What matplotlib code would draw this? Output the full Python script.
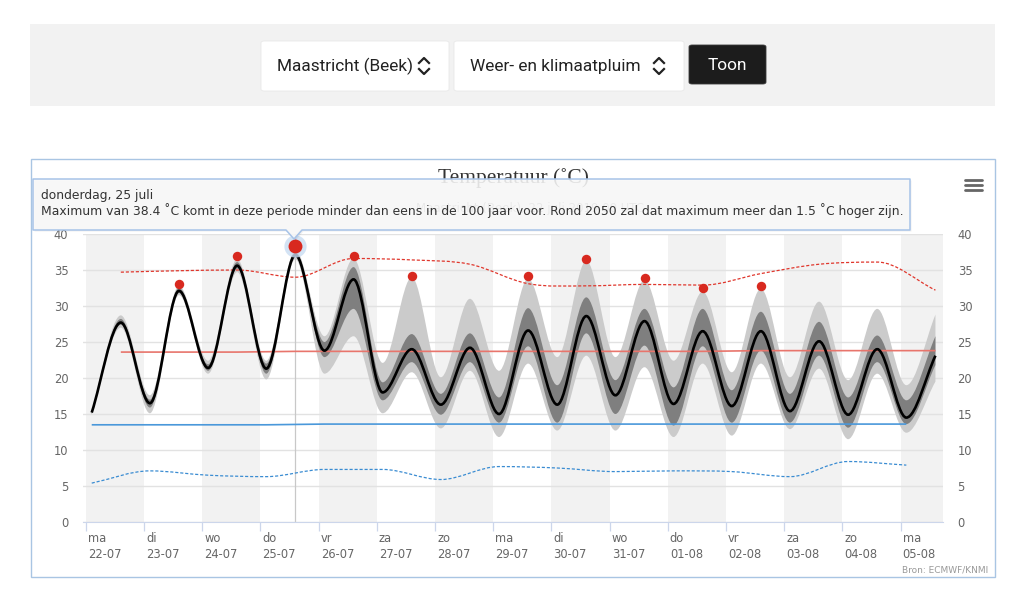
import numpy as np
import matplotlib
matplotlib.use("Agg")
import matplotlib.pyplot as plt
from matplotlib.path import Path
from matplotlib.patches import PathPatch, Rectangle, Polygon, FancyBboxPatch
from matplotlib.lines import Line2D
from matplotlib.transforms import ScaledTranslation

# ---- data (days since ma 22-07 00:00) ----
day_names = ["ma", "di", "wo", "do", "vr", "za", "zo", "ma", "di", "wo", "do", "vr", "za", "zo", "ma"]
dates = ["22-07", "23-07", "24-07", "25-07", "26-07", "27-07", "28-07", "29-07", "30-07", "31-07",
         "01-08", "02-08", "03-08", "04-08", "05-08"]

t_half = [0.1, 0.6, 1.1, 1.6, 2.1, 2.6, 3.1, 3.6, 4.1, 4.6, 5.1, 5.6, 6.1, 6.6, 7.1,
          7.6, 8.1, 8.6, 9.1, 9.6, 10.1, 10.6, 11.1, 11.6, 12.1, 12.6, 13.1, 13.6, 14.1, 14.6]
mean_t = [15.2, 27.7, 16.5, 32.1, 21.4, 35.6, 21.3, 37.1, 23.8, 33.7, 18.0, 24.0, 16.3, 24.2, 15.0,
          26.6, 16.3, 28.6, 17.6, 27.9, 16.4, 26.5, 16.1, 26.5, 15.4, 25.1, 14.9, 24.0, 14.5, 23.1]
light_lo = [14.9, 27.0, 15.1, 31.5, 20.6, 34.7, 19.8, 36.5, 20.6, 25.8, 15.1, 20.8, 13.0, 21.0, 11.8,
            22.0, 12.7, 23.1, 12.7, 21.5, 11.8, 22.0, 12.0, 22.0, 12.9, 21.3, 11.5, 20.6, 12.4, 19.5]
light_hi = [15.5, 28.7, 17.6, 32.8, 22.4, 36.5, 22.4, 37.8, 25.8, 36.6, 22.1, 34.0, 20.1, 31.0, 21.0,
            33.8, 22.9, 36.3, 22.9, 33.6, 22.4, 32.0, 20.8, 32.4, 20.1, 30.6, 19.7, 29.6, 19.0, 28.8]
dark_lo = [15.0, 27.4, 15.9, 31.8, 21.0, 35.2, 20.6, 36.8, 22.9, 29.6, 16.9, 22.2, 14.9, 22.2, 13.8,
           24.4, 13.8, 26.2, 15.0, 24.5, 13.4, 24.4, 13.8, 23.8, 13.8, 23.1, 13.1, 22.2, 13.6, 21.8]
dark_hi = [15.4, 28.2, 17.0, 32.5, 21.9, 36.1, 22.0, 37.5, 25.0, 35.4, 19.4, 26.1, 17.8, 26.2, 17.3,
           29.7, 19.0, 31.2, 19.7, 29.6, 18.7, 29.6, 18.3, 29.2, 17.8, 27.8, 17.3, 25.9, 16.9, 25.8]

# climate lines: max side at afternoon times, min side at night times
clim_max_ext = [34.7, 34.9, 35.0, 34.0, 36.6, 36.4, 35.8, 33.1, 32.8, 33.0, 32.9, 34.5, 35.8, 36.1, 32.2]
clim_max_avg = [23.6, 23.6, 23.6, 23.7, 23.7, 23.7, 23.7, 23.7, 23.7, 23.7, 23.7, 23.8, 23.8, 23.8, 23.8]
clim_min_avg = [13.5, 13.5, 13.5, 13.5, 13.6, 13.6, 13.6, 13.6, 13.6, 13.6, 13.6, 13.6, 13.6, 13.6, 13.6]
clim_min_ext = [5.4, 7.1, 6.5, 6.3, 7.3, 7.3, 5.9, 7.7, 7.5, 7.0, 7.1, 7.0, 6.3, 8.4, 7.9]

record_t = [1.6, 2.6, 3.6, 4.6, 5.6, 7.6, 8.6, 9.6, 10.6, 11.6]
record_v = [33.0, 36.9, 38.4, 37.0, 34.2, 34.2, 36.5, 33.9, 32.5, 32.8]

t_pm = t_half[1::2]
t_am = t_half[0::2]

W, H = 1024, 599


def fx(x):
    return x / W


def fy(y):
    return 1 - y / H


def spline(x, y):
    # bezier spline like highcharts: flat tangents at local extremes
    x = np.asarray(x, float); y = np.asarray(y, float)
    n = len(x)
    m = np.zeros(n)
    for i in range(n):
        if i == 0:
            m[i] = (y[1] - y[0]) / (x[1] - x[0])
        elif i == n - 1:
            m[i] = (y[-1] - y[-2]) / (x[-1] - x[-2])
        elif (y[i] - y[i - 1]) * (y[i + 1] - y[i]) > 0:
            m[i] = (y[i + 1] - y[i - 1]) / (x[i + 1] - x[i - 1])
    verts = [(x[0], y[0])]; codes = [Path.MOVETO]
    for i in range(n - 1):
        d = (x[i + 1] - x[i]) / 3
        verts += [(x[i] + d, y[i] + m[i] * d), (x[i + 1] - d, y[i + 1] - m[i + 1] * d), (x[i + 1], y[i + 1])]
        codes += [Path.CURVE4] * 3
    return verts, codes


def band(ax, x, lo, hi, color, z):
    vu, cu = spline(x, hi)
    vl, cl = spline(x[::-1], lo[::-1])
    cl[0] = Path.LINETO
    p = Path(vu + vl + [vu[0]], cu + cl + [Path.CLOSEPOLY])
    ax.add_patch(PathPatch(p, fc=color, ec="none", zorder=z))


def curve(ax, x, y, **kw):
    v, c = spline(x, y)
    ax.add_patch(PathPatch(Path(v, c), fill=False, capstyle="butt", **kw))


fig = plt.figure(figsize=(W / 100, H / 100), dpi=100)
fig.patch.set_facecolor("white")

# ---- page controls ----
fig.add_artist(Rectangle((fx(30), fy(106)), (995 - 30) / W, 82 / H, transform=fig.transFigure,
                         fc="#f2f2f2", ec="none", zorder=-5))
for x0, x1, label in [(261, 449, "Maastricht (Beek)"), (454, 684, "Weer- en klimaatpluim")]:
    fig.add_artist(FancyBboxPatch((fx(x0), fy(91)), (x1 - x0) / W, 50 / H, boxstyle="round,pad=0,rounding_size=0.003",
                                  transform=fig.transFigure, fc="white", ec="#e8e8e8", lw=0.6, zorder=-4))
    fig.text(fx(x0 + 16), fy(66), label, ha="left", va="center", fontsize=12.4, family="Roboto", color="#222222")
    cx = x1 - 25
    fig.add_artist(Line2D([fx(cx - 5), fx(cx), fx(cx + 5)], [fy(63), fy(58), fy(63)],
                          transform=fig.transFigure, color="#222222", lw=1.6))
    fig.add_artist(Line2D([fx(cx - 5), fx(cx), fx(cx + 5)], [fy(69), fy(74), fy(69)],
                          transform=fig.transFigure, color="#222222", lw=1.6))
fig.add_artist(FancyBboxPatch((fx(689), fy(84)), 77 / W, 39 / H, boxstyle="round,pad=0,rounding_size=0.003",
                              transform=fig.transFigure, fc="#1c1c1c", ec="#3a3a3a", lw=0.6, zorder=-4))
fig.text(fx(727.5), fy(65), "Toon", ha="center", va="center", fontsize=12.4, family="Roboto", color="white")

# chart container
fig.add_artist(Rectangle((fx(31), fy(577)), (995 - 31) / W, (577 - 159) / H, transform=fig.transFigure,
                         fc="none", ec="#a9c5e3", lw=1, zorder=-3))

# ---- plot area ----
ax = fig.add_axes([fx(83), fy(522), (943 - 83) / W, (522 - 234) / H])
ax.set_facecolor("none")
ax.set_xlim(-0.05, 14.73)
ax.set_ylim(0, 40)

for k in range(0, len(day_names), 2):
    ax.axvspan(k, k + 1, color="#f2f2f2", lw=0, zorder=0.2)

ax.set_yticks(np.arange(0, 41, 5))
ax.grid(axis="y", color="#e2e2e2", lw=1.0, zorder=0.5)
ax.set_axisbelow(True)

hl = int(np.argmax(record_v))
ax.axvline(record_t[hl], color="#c8c8c8", lw=0.9, zorder=0.8)

band(ax, t_half, light_lo, light_hi, "#cbcbcb", 1.0)
band(ax, t_half, dark_lo, dark_hi, "#7f7f7f", 1.1)

curve(ax, t_pm, clim_max_ext, ec="#e0362c", lw=0.9, ls=(0, (2.5, 1.5)), zorder=2)
curve(ax, t_pm, clim_max_avg, ec="#e8756c", lw=1.2, zorder=2)
curve(ax, t_am, clim_min_avg, ec="#4a98da", lw=1.2, zorder=2)
curve(ax, t_am, clim_min_ext, ec="#3a8cd2", lw=0.9, ls=(0, (2.5, 1.5)), zorder=2)
curve(ax, t_half, mean_t, ec="black", lw=1.9, zorder=3)

others = [i for i in range(len(record_t)) if i != hl]
ax.plot([record_t[i] for i in others], [record_v[i] for i in others], "o", ms=6.8, color="#d8291f",
        mec="none", zorder=4, clip_on=False)
ax.plot(record_t[hl], record_v[hl], "o", ms=16, color="#c9dcf2", mec="none", alpha=0.8, zorder=4, clip_on=False)
ax.plot(record_t[hl], record_v[hl], "o", ms=10, color="#d8291f", mec="none", zorder=5, clip_on=False)

# axes styling
for s in ["top", "left", "right"]:
    ax.spines[s].set_visible(False)
ax.spines["bottom"].set_color("#ccd6eb")
ax.spines["bottom"].set_zorder(0.6)
ax.set_xticks(range(len(day_names)))
ax.set_xticklabels([f"{d}\n{t}" for d, t in zip(day_names, dates)], ha="left")
ax.tick_params(axis="x", length=6.5, width=0.9, color="#ccd6eb", pad=1, labelsize=8.3, labelcolor="#666666")
shift = ScaledTranslation(2 / 100, 0, fig.dpi_scale_trans)
for lbl in ax.get_xticklabels():
    lbl.set_linespacing(1.25)
    lbl.set_transform(lbl.get_transform() + shift)
ax.tick_params(axis="y", length=0, pad=10.5, labelsize=8.3, labelcolor="#666666", labelleft=True, labelright=True)

# ---- titles, tooltip, credits ----
fig.text(fx(513), fy(178), "Temperatuur (˚C)", ha="center", va="center", fontsize=15.5,
         family="Liberation Serif", color="#333333", zorder=3)
fig.text(fx(530), fy(209), "Maastricht (Beek), 22 juli 2019 00 UTC", ha="center", va="center", fontsize=8.5,
         color="#888888", zorder=3)

tip = [(33, 179), (910, 179), (910, 230), (302, 230), (294, 239), (286, 230), (33, 230)]
fig.add_artist(Polygon([(fx(x + 1.5), fy(y + 1.5)) for x, y in tip], closed=True, transform=fig.transFigure,
                       fc=(0, 0, 0, 0.06), ec="none", zorder=9))
fig.add_artist(Polygon([(fx(x), fy(y)) for x, y in tip], closed=True, transform=fig.transFigure,
                       fc=(0.975, 0.975, 0.975, 0.88), ec="#a7c3e8", lw=1.1, joinstyle="round", zorder=10))
fig.text(fx(41), fy(195), "donderdag, 25 juli", ha="left", va="center", fontsize=8.9, color="#333333", zorder=11)
fig.text(fx(41), fy(211),
         f"Maximum van {record_v[hl]:.1f} ˚C komt in deze periode minder dan eens in de 100 jaar voor. "
         "Rond 2050 zal dat maximum meer dan 1.5 ˚C hoger zijn.",
         ha="left", va="center", fontsize=8.9, color="#333333", zorder=11)

for yb in [179.5, 184.5, 189.5]:
    fig.add_artist(Line2D([fx(965), fx(982)], [fy(yb), fy(yb)], transform=fig.transFigure,
                          color="#666666", lw=2.0, solid_capstyle="round"))

fig.text(fx(988), fy(570), "Bron: ECMWF/KNMI", ha="right", va="center", fontsize=6.5, color="#999999")

fig.savefig("out.png", dpi=100)
